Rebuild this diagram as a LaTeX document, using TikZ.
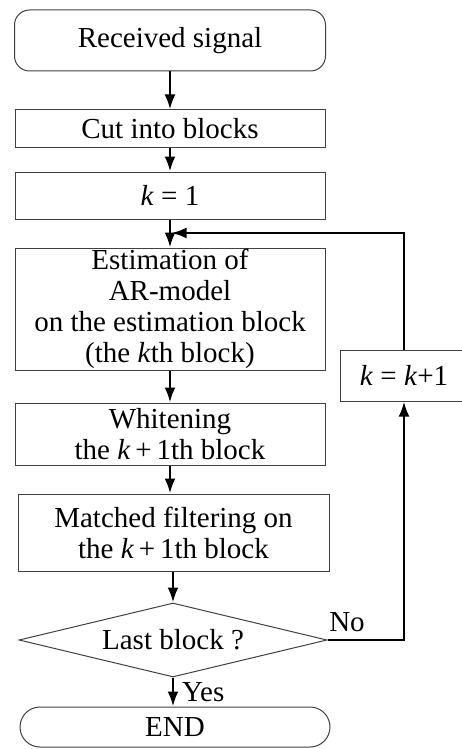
\documentclass[tikz,border=0pt]{standalone}
\usepackage{fontspec}
\setmainfont{Liberation Serif}
\usetikzlibrary{arrows.meta,shapes.geometric}
\begin{document}
\begin{tikzpicture}[x=1pt,y=-1pt,
  box/.style={draw=black!75,line width=1pt,inner sep=0pt,align=center,
    font=\fontsize{29}{31}\selectfont},
  flow/.style={line width=2.6pt,-{Latex[length=15pt,width=11pt]}},
  lbl/.style={inner sep=0pt,font=\fontsize{29}{31}\selectfont}]
\useasboundingbox (0,0) rectangle (462,749);
\node[box,rounded corners=15pt,minimum width=311pt,minimum height=61pt] (rs) at (170,40.5) {Received signal};
\node[box,minimum width=310pt,minimum height=37pt] (cut) at (170,128.5) {Cut into blocks};
\node[box,minimum width=310pt,minimum height=47pt] (k1) at (170,195.5) {\textit{k} = 1};
\node[box,minimum width=310pt,minimum height=122pt] (est) at (170,309) {Estimation of\\AR-model\\on the estimation block\\(the \textit{k}th block)};
\node[box,minimum width=310pt,minimum height=62pt] (wh) at (170,434) {Whitening\\the \textit{k}\,+\,1th block};
\node[box,minimum width=311pt,minimum height=77pt] (mf) at (173.5,532.5) {Matched filtering on\\the \textit{k}\,+\,1th block};
\node[box,diamond,aspect=4.16,minimum width=308pt,minimum height=74pt] (lb) at (173,640) {Last block ?};
\node[box,rounded corners=20pt,minimum width=310pt,minimum height=40pt] (end) at (175,727) {END};
\node[box,minimum width=128pt,minimum height=51pt] (kk) at (404,375.5) {\textit{k} = \textit{k}+1};
\coordinate (j) at (171.5,233);
\draw[flow] (rs.south) -- (rs.south |- cut.north);
\draw[flow] (cut.south) -- (cut.south |- k1.north);
\draw[flow] (k1.south) -- (k1.south |- est.north);
\draw[flow] (est.south) -- (est.south |- wh.north);
\draw[flow] (wh.south) -- (wh.south |- mf.north);
\draw[flow] (mf.south -| lb.north) -- (lb.north);
\draw[flow] (lb.south) -- (lb.south |- end.north);
\draw[flow] (lb.east) -| (kk.south);
\draw[flow] (kk.north) |- (j);
\node[lbl,anchor=west] (yes) at (182,692) {Yes};
\node[lbl] (no) at (347,622) {No};
\end{tikzpicture}
\end{document}
